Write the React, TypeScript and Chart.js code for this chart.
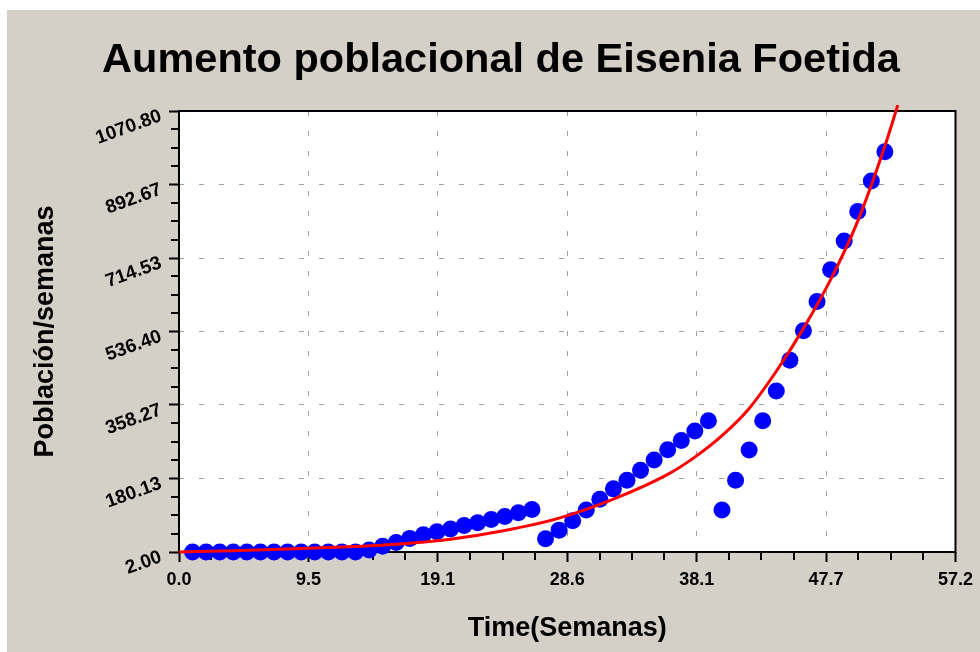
import React, { useEffect, useRef } from "react";
import { Chart, registerables } from "chart.js";

Chart.register(...registerables);

const TITLE = "Aumento poblacional de Eisenia Foetida";
const X_TITLE = "Time(Semanas)";
const Y_TITLE = "Población/semanas";

const WEEKS = [
  1, 2, 3, 4, 5, 6, 7, 8, 9, 10, 11, 12, 13, 14, 15, 16, 17, 18, 19, 20, 21, 22, 23, 24, 25, 26,
  27, 28, 29, 30, 31, 32, 33, 34, 35, 36, 37, 38, 39, 40, 41, 42, 43, 44, 45, 46, 47, 48, 49, 50, 51, 52,
];
const POPULATION = [
  2, 2, 2, 2, 2, 2, 2, 2, 2, 2, 2, 2, 2, 7, 16, 25, 35, 44, 51, 58, 66, 73, 81, 88, 97, 105,
  34, 55, 78, 104, 130, 155, 176, 200, 225, 250, 272, 295, 320, 104, 176, 249, 320, 392, 467, 538,
  609, 686, 756, 827, 901, 972,
];

const FIT_WEEKS = [0, 4, 8, 12, 16, 20, 24, 28, 32, 36, 38, 40, 42, 44, 46, 48, 50, 52, 52.95];
const FIT_VALUES = [2, 5, 9, 14, 21, 33, 54, 84, 130, 190, 232, 284, 350, 440, 544, 662, 804, 986, 1085];

const X_TICKS = [0, 9.533, 19.067, 28.6, 38.133, 47.667, 57.2];
const X_TICK_LABELS = ["0.0", "9.5", "19.1", "28.6", "38.1", "47.7", "57.2"];
const Y_TICKS = [2, 180.13, 358.27, 536.4, 714.53, 892.67, 1070.8];
const Y_TICK_LABELS = ["2.00", "180.13", "358.27", "536.40", "714.53", "892.67", "1070.80"];

const FONT = "'Liberation Sans', Arial, sans-serif";
const BG = "#d4d0c8";

const framePlugin = {
  id: "frameAndMinor",
  beforeDraw(chart: any) {
    const { ctx, chartArea } = chart;
    ctx.save();
    ctx.fillStyle = "#ffffff";
    ctx.fillRect(chartArea.left, chartArea.top, chartArea.right - chartArea.left, chartArea.bottom - chartArea.top);
    ctx.fillStyle = "#000";
    ctx.font = `bold 41.5px ${FONT}`;
    ctx.textAlign = "center";
    ctx.textBaseline = "middle";
    ctx.fillText(TITLE, 494, 51);
    ctx.restore();
  },
  beforeDatasetsDraw(chart: any) {
    const { ctx, chartArea, scales } = chart;
    const xs = scales.x;
    const ys = scales.y;
    ctx.save();
    ctx.strokeStyle = "#000";
    ctx.lineWidth = 2;
    ctx.setLineDash([]);
    ctx.beginPath();
    for (let i = 0; i < X_TICKS.length - 1; i++) {
      for (let k = 1; k < 4; k++) {
        const v = X_TICKS[i] + ((X_TICKS[i + 1] - X_TICKS[i]) * k) / 4;
        const px = Math.round(xs.getPixelForValue(v));
        ctx.moveTo(px, chartArea.bottom);
        ctx.lineTo(px, chartArea.bottom + 8);
      }
    }
    for (let i = 0; i < Y_TICKS.length - 1; i++) {
      for (let k = 1; k < 4; k++) {
        const v = Y_TICKS[i] + ((Y_TICKS[i + 1] - Y_TICKS[i]) * k) / 4;
        const py = Math.round(ys.getPixelForValue(v));
        ctx.moveTo(chartArea.left, py);
        ctx.lineTo(chartArea.left - 8, py);
      }
    }
    ctx.stroke();
    ctx.strokeRect(chartArea.left, chartArea.top, chartArea.right - chartArea.left, chartArea.bottom - chartArea.top);
    ctx.restore();
  },
};

export default function App() {
  const ref = useRef<HTMLCanvasElement | null>(null);

  useEffect(() => {
    const canvas = ref.current;
    if (!canvas) return;
    const chart = new Chart(canvas, {
      type: "scatter",
      data: {
        datasets: [
          {
            label: "Ajuste",
            data: FIT_WEEKS.map((t, i) => ({ x: t, y: FIT_VALUES[i] })),
            showLine: true,
            borderColor: "#ff0000",
            backgroundColor: "#ff0000",
            borderWidth: 3,
            pointRadius: 0,
            cubicInterpolationMode: "monotone",
            clip: false,
          } as any,
          {
            label: "Población",
            data: WEEKS.map((t, i) => ({ x: t, y: POPULATION[i] })),
            showLine: false,
            pointRadius: 8.5,
            pointBackgroundColor: "#0000ff",
            pointBorderColor: "#0000ff",
            pointBorderWidth: 0,
            backgroundColor: "#0000ff",
            borderColor: "#0000ff",
            clip: false,
          } as any,
        ],
      },
      options: {
        responsive: false,
        animation: false,
        devicePixelRatio: 1,
        layout: { padding: { left: 0, right: 23, top: 101, bottom: 0 } },
        plugins: {
          legend: { display: false },
          tooltip: { enabled: false },
          title: { display: false },
        },
        scales: {
          x: {
            type: "linear",
            min: 0,
            max: 57.2,
            afterBuildTicks: (scale: any) => {
              scale.ticks = X_TICKS.map((v) => ({ value: v }));
            },
            afterFit: (scale: any) => {
              scale.height = 100;
            },
            ticks: {
              autoSkip: false,
              maxRotation: 0,
              minRotation: 0,
              padding: 7,
              color: "#000",
              font: { family: FONT, size: 18, weight: "bold" },
              callback: (_v: any, i: number) => X_TICK_LABELS[i],
            },
            grid: {
              color: "#a0a0a0",
              lineWidth: 1,
              tickColor: "#000",
              tickWidth: 2,
              tickLength: 10,
            },
            border: { display: false, dash: [5, 15] },
            title: {
              display: true,
              text: X_TITLE,
              color: "#000",
              font: { family: FONT, size: 27, weight: "bold", lineHeight: 1.2 },
              padding: { top: 0, bottom: 7 },
            },
          },
          y: {
            type: "linear",
            min: 2,
            max: 1070.8,
            afterBuildTicks: (scale: any) => {
              scale.ticks = Y_TICKS.map((v) => ({ value: v }));
            },
            afterFit: (scale: any) => {
              scale.width = 172;
            },
            ticks: {
              autoSkip: false,
              minRotation: 20,
              maxRotation: 20,
              padding: 8,
              labelOffset: 4.5,
              color: "#000",
              font: { family: FONT, size: 19, weight: "bold" },
              callback: (_v: any, i: number) => Y_TICK_LABELS[i],
            },
            grid: {
              color: "#a0a0a0",
              lineWidth: 1,
              tickColor: "#000",
              tickWidth: 2,
              tickLength: 10,
            },
            border: { display: false, dash: [5, 15] },
            title: {
              display: true,
              text: Y_TITLE,
              color: "#000",
              font: { family: FONT, size: 27, weight: "bold", lineHeight: 1.2 },
              padding: { top: 22, bottom: 0 },
            },
          },
        },
      },
      plugins: [framePlugin],
    } as any);
    return () => chart.destroy();
  }, []);

  return (
    <div
      style={{
        position: "fixed",
        left: 7,
        top: 10,
        width: 973,
        height: 642,
        background: BG,
      }}
    >
      <canvas ref={ref} width={973} height={642} style={{ display: "block", width: 973, height: 642 }} />
    </div>
  );
}
